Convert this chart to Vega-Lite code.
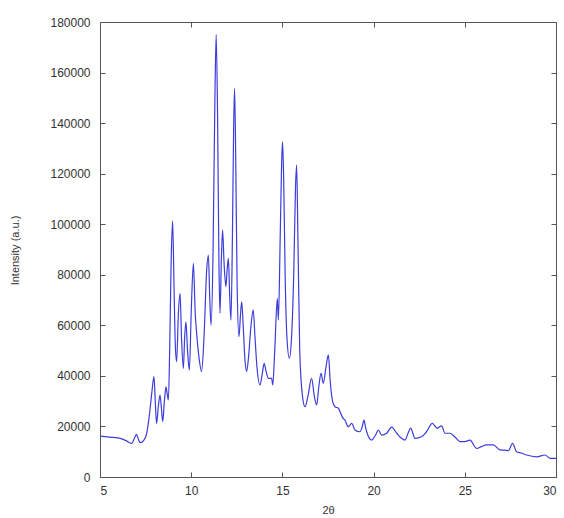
{
  "$schema": "https://vega.github.io/schema/vega-lite/v6.json",
  "width": 456,
  "height": 455,
  "autosize": "none",
  "padding": {"left": 100, "top": 22, "right": 8, "bottom": 41},
  "background": "white",
  "config": {
    "view": {"stroke": "#555555", "strokeWidth": 1},
    "axis": {"grid": false, "domain": false, "offset": -5, "labelFont": "Liberation Sans", "titleFont": "Liberation Sans", "labelColor": "#333333", "titleColor": "#333333", "labelFontSize": 12, "titleFontSize": 11, "titleFontWeight": "normal", "tickColor": "#555555", "tickSize": 5}
  },
  "data": {"values": [
    {"x": 5.0, "y": 16200}, {"x": 5.5, "y": 15800}, {"x": 6.0, "y": 15500}, {"x": 6.4, "y": 14500},
    {"x": 6.74, "y": 13300}, {"x": 6.9, "y": 15500}, {"x": 7.0, "y": 16900}, {"x": 7.1, "y": 15000},
    {"x": 7.2, "y": 13600}, {"x": 7.4, "y": 14500}, {"x": 7.56, "y": 17300}, {"x": 7.7, "y": 24000},
    {"x": 7.85, "y": 34000}, {"x": 7.96, "y": 39700}, {"x": 8.03, "y": 30000}, {"x": 8.1, "y": 21200},
    {"x": 8.2, "y": 28000}, {"x": 8.29, "y": 32400}, {"x": 8.37, "y": 27000}, {"x": 8.44, "y": 21900},
    {"x": 8.53, "y": 30000}, {"x": 8.62, "y": 35700}, {"x": 8.68, "y": 33000}, {"x": 8.75, "y": 30500},
    {"x": 8.82, "y": 50000}, {"x": 8.9, "y": 85000}, {"x": 8.98, "y": 101300}, {"x": 9.06, "y": 75000},
    {"x": 9.13, "y": 52000}, {"x": 9.2, "y": 45600}, {"x": 9.3, "y": 65000}, {"x": 9.39, "y": 72700},
    {"x": 9.47, "y": 55000}, {"x": 9.57, "y": 43000}, {"x": 9.64, "y": 55000}, {"x": 9.71, "y": 61400},
    {"x": 9.8, "y": 50000}, {"x": 9.9, "y": 42300}, {"x": 10.0, "y": 65000}, {"x": 10.12, "y": 84500},
    {"x": 10.22, "y": 65000}, {"x": 10.3, "y": 56800}, {"x": 10.45, "y": 46000}, {"x": 10.57, "y": 41700},
    {"x": 10.7, "y": 55000}, {"x": 10.85, "y": 82000}, {"x": 10.94, "y": 87800}, {"x": 11.02, "y": 70000},
    {"x": 11.09, "y": 60100}, {"x": 11.2, "y": 90000}, {"x": 11.3, "y": 150000}, {"x": 11.37, "y": 175000},
    {"x": 11.45, "y": 140000}, {"x": 11.52, "y": 85000}, {"x": 11.58, "y": 64800}, {"x": 11.65, "y": 85000},
    {"x": 11.72, "y": 97700}, {"x": 11.8, "y": 85000}, {"x": 11.9, "y": 75300}, {"x": 11.97, "y": 82000},
    {"x": 12.04, "y": 86500}, {"x": 12.11, "y": 72000}, {"x": 12.18, "y": 62100}, {"x": 12.26, "y": 95000},
    {"x": 12.33, "y": 140000}, {"x": 12.38, "y": 153800}, {"x": 12.45, "y": 120000}, {"x": 12.52, "y": 75000},
    {"x": 12.62, "y": 55500}, {"x": 12.7, "y": 64000}, {"x": 12.77, "y": 69300}, {"x": 12.85, "y": 60000},
    {"x": 12.95, "y": 46000}, {"x": 13.04, "y": 41700}, {"x": 13.15, "y": 48000}, {"x": 13.28, "y": 60000},
    {"x": 13.4, "y": 66100}, {"x": 13.5, "y": 55000}, {"x": 13.6, "y": 44000}, {"x": 13.77, "y": 36400},
    {"x": 13.9, "y": 41000}, {"x": 14.0, "y": 45000}, {"x": 14.1, "y": 42000}, {"x": 14.23, "y": 39000},
    {"x": 14.41, "y": 39000}, {"x": 14.47, "y": 36400}, {"x": 14.58, "y": 50000}, {"x": 14.72, "y": 70700},
    {"x": 14.78, "y": 62100}, {"x": 14.88, "y": 95000}, {"x": 14.96, "y": 125000}, {"x": 15.01, "y": 132600},
    {"x": 15.07, "y": 118000}, {"x": 15.15, "y": 80000}, {"x": 15.25, "y": 55000}, {"x": 15.38, "y": 47000},
    {"x": 15.5, "y": 55000}, {"x": 15.62, "y": 80000}, {"x": 15.72, "y": 115000}, {"x": 15.78, "y": 123400},
    {"x": 15.85, "y": 95000}, {"x": 15.95, "y": 50000}, {"x": 16.1, "y": 32000}, {"x": 16.24, "y": 27800},
    {"x": 16.4, "y": 32000}, {"x": 16.6, "y": 39000}, {"x": 16.75, "y": 32000}, {"x": 16.88, "y": 28500},
    {"x": 17.0, "y": 36000}, {"x": 17.12, "y": 41000}, {"x": 17.24, "y": 37100}, {"x": 17.4, "y": 44000},
    {"x": 17.52, "y": 48300}, {"x": 17.62, "y": 38000}, {"x": 17.75, "y": 30000}, {"x": 17.88, "y": 27800},
    {"x": 18.07, "y": 27200}, {"x": 18.16, "y": 25800}, {"x": 18.3, "y": 23500}, {"x": 18.43, "y": 22500},
    {"x": 18.61, "y": 19900}, {"x": 18.8, "y": 21200}, {"x": 18.98, "y": 18600}, {"x": 19.25, "y": 17900},
    {"x": 19.38, "y": 20000}, {"x": 19.47, "y": 22500}, {"x": 19.55, "y": 20000}, {"x": 19.62, "y": 17900},
    {"x": 19.9, "y": 14600}, {"x": 20.1, "y": 16500}, {"x": 20.26, "y": 18600}, {"x": 20.44, "y": 16600},
    {"x": 20.71, "y": 17300}, {"x": 20.99, "y": 19700}, {"x": 21.27, "y": 17300}, {"x": 21.5, "y": 15500},
    {"x": 21.72, "y": 14600}, {"x": 21.9, "y": 17500}, {"x": 22.03, "y": 19300}, {"x": 22.27, "y": 15300},
    {"x": 22.63, "y": 15900}, {"x": 22.9, "y": 17900}, {"x": 23.22, "y": 21200}, {"x": 23.49, "y": 19300},
    {"x": 23.73, "y": 20200}, {"x": 23.91, "y": 17300}, {"x": 24.19, "y": 17300}, {"x": 24.5, "y": 15500},
    {"x": 24.74, "y": 14000}, {"x": 25.0, "y": 14000}, {"x": 25.28, "y": 14600}, {"x": 25.65, "y": 11300},
    {"x": 25.9, "y": 12000}, {"x": 26.2, "y": 12700}, {"x": 26.56, "y": 12700}, {"x": 26.93, "y": 10700},
    {"x": 27.2, "y": 10600}, {"x": 27.39, "y": 10400}, {"x": 27.62, "y": 13300}, {"x": 27.84, "y": 10000},
    {"x": 28.1, "y": 9500}, {"x": 28.39, "y": 8700}, {"x": 28.94, "y": 8000}, {"x": 29.4, "y": 8700},
    {"x": 29.67, "y": 7400}, {"x": 29.95, "y": 7400}, {"x": 30.0, "y": 7400}
  ]},
  "layer": [
    {
      "mark": {"type": "line", "color": "#3c3cdc", "strokeWidth": 1.2, "interpolate": "monotone", "clip": true},
      "encoding": {
        "x": {"field": "x", "type": "quantitative", "scale": {"domain": [5, 30], "nice": false, "zero": false},
          "axis": {"values": [5, 10, 15, 20, 25, 30], "format": "d", "title": "2θ", "labelPadding": 8, "titleY": 38, "titleBaseline": "middle"}},
        "y": {"field": "y", "type": "quantitative", "scale": {"domain": [0, 180000], "nice": false},
          "axis": {"values": [0, 20000, 40000, 60000, 80000, 100000, 120000, 140000, 160000, 180000], "format": "d", "title": "Intensity (a.u.)", "labelPadding": 10, "titleX": -90, "titleY": 228, "titleBaseline": "middle"}}
      }
    },
    {
      "mark": {"type": "line", "strokeOpacity": 0},
      "encoding": {
        "x": {"field": "x", "type": "quantitative", "scale": {"domain": [5, 30], "nice": false, "zero": false},
          "axis": {"orient": "top", "values": [5, 10, 15, 20, 25, 30], "labels": false, "title": null}},
        "y": {"field": "y", "type": "quantitative", "scale": {"domain": [0, 180000], "nice": false},
          "axis": {"orient": "right", "values": [0, 20000, 40000, 60000, 80000, 100000, 120000, 140000, 160000, 180000], "labels": false, "title": null}}
      }
    }
  ],
  "resolve": {"axis": {"x": "independent", "y": "independent"}}
}
